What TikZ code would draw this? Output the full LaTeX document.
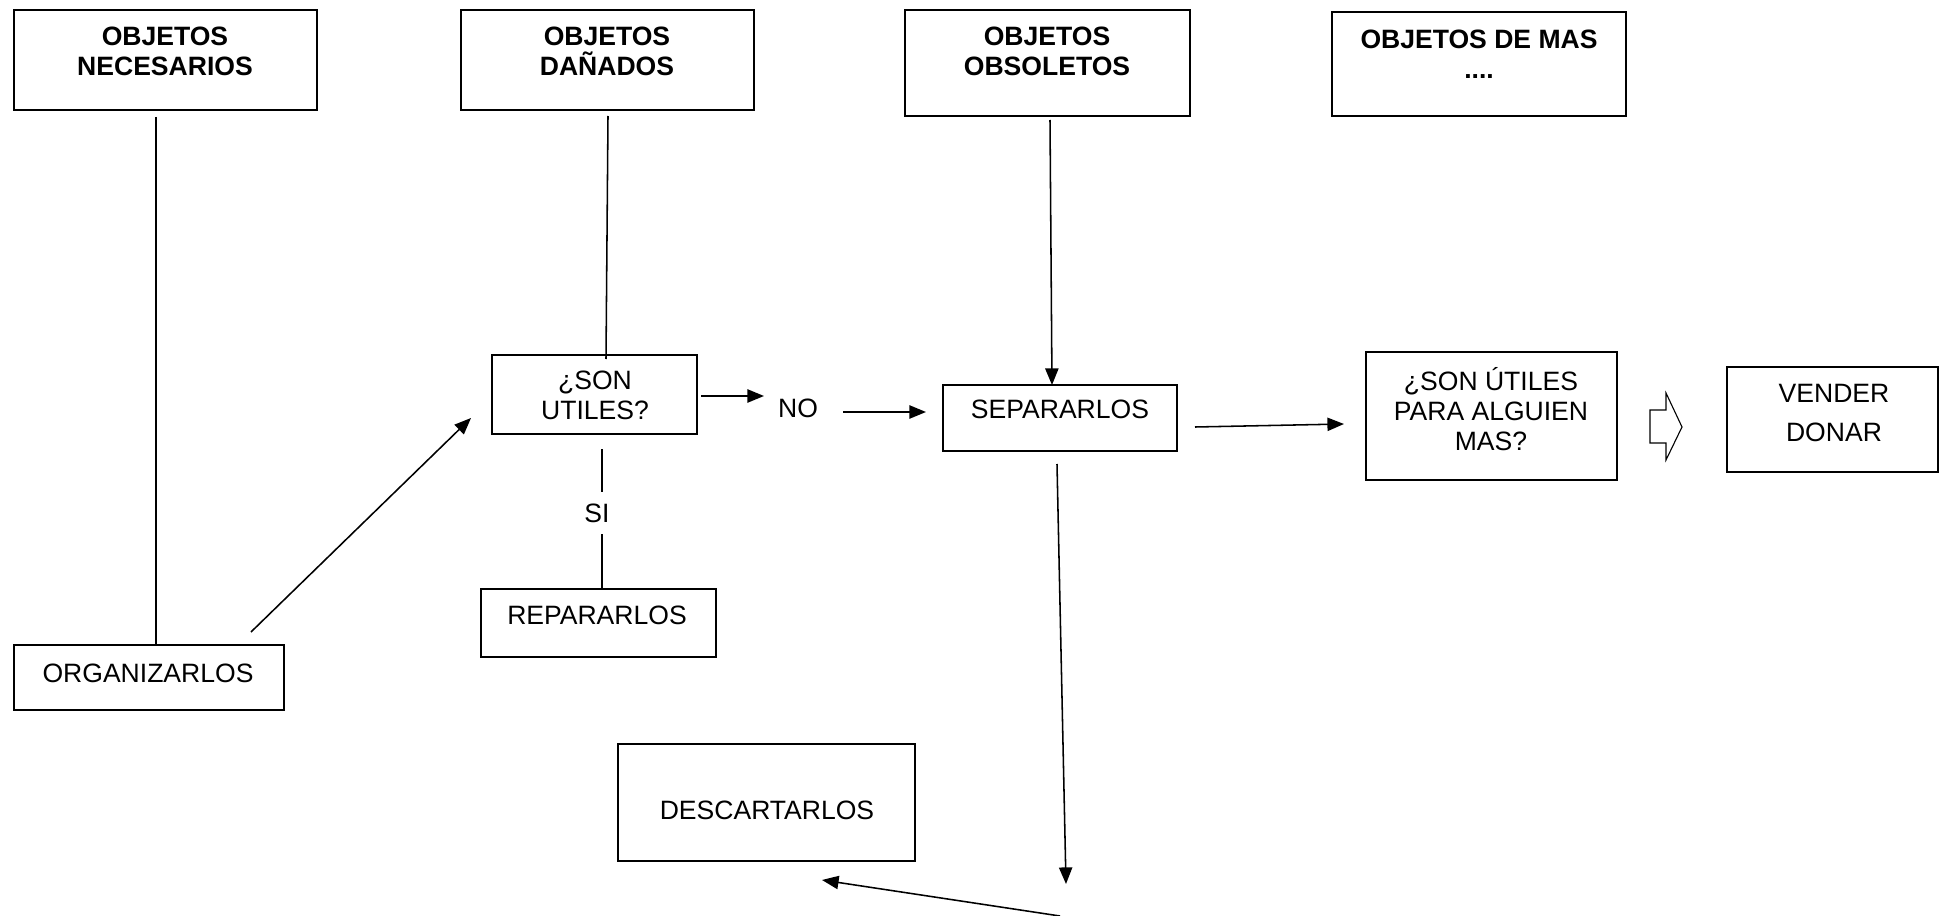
\documentclass[tikz,border=0pt]{standalone}
\usepackage{fontspec}
\setmainfont{Liberation Sans}
\usetikzlibrary{arrows.meta,fit}
\begin{document}
\begin{tikzpicture}[x=0.452pt,y=-0.452pt,
  box/.style={draw, line width=0.6pt, inner sep=0pt},
  txt/.style={inner sep=0pt, align=center, font=\fontsize{12}{13.6}\selectfont},
  btxt/.style={txt, font=\fontsize{12}{13.6}\selectfont\bfseries},
  conn/.style={line width=0.7pt},
  arr/.style={line width=0.7pt, -{Triangle[length=7.5pt,width=6pt]}}]
\useasboundingbox (0,0) rectangle (1939,916);

% boxes
\node[box, fit={(14,10) (317,110)}] (nec) {};
\node[btxt] (necT) at (165,51) {OBJETOS\\NECESARIOS};
\node[box, fit={(461,10) (754,110)}] (dan) {};
\node[btxt] (danT) at (607,51) {OBJETOS\\DAÑADOS};
\node[box, fit={(905,10) (1190,116)}] (obs) {};
\node[btxt] (obsT) at (1047,51) {OBJETOS\\OBSOLETOS};
\node[box, fit={(1332,12) (1626,116)}] (mas) {};
\node[btxt] (masT) at (1479,54) {OBJETOS DE MAS\\....};

\node[box, fit={(492,355) (697,434)}] (son) {};
\node[txt] (sonT) at (595,395) {¿SON\\UTILES?};
\node[box, fit={(943,385) (1177,451)}] (sep) {};
\node[txt] (sepT) at (1060,409) {SEPARARLOS};
\node[box, fit={(1366,352) (1617,480)}] (alg) {};
\node[txt] (algT) at (1491,409) {¿SON ÚTILES\\PARA ALGUIEN\\MAS?};
\node[box, fit={(1727,367) (1938,472)}] (ven) {};
\node[txt, font=\fontsize{12}{17.2}\selectfont] (venT) at (1834,413) {VENDER\\DONAR};
\node[box, fit={(481,589) (716,657)}] (rep) {};
\node[txt] (repT) at (597,615) {REPARARLOS};
\node[box, fit={(14,645) (284,710)}] (org) {};
\node[txt] (orgT) at (148,673) {ORGANIZARLOS};
\node[box, fit={(618,744) (915,861)}] (des) {};
\node[txt] (desT) at (767,810) {DESCARTARLOS};

% labels
\node[txt] (no) at (798,408) {NO};
\node[txt] (si) at (597,513) {SI};

% block arrow
\draw[line width=0.5pt] (1650,410) -- (1666,410) -- (1666,393) -- (1682,427)
  -- (1666,460) -- (1666,443) -- (1650,443) -- cycle;

% connector end points
\coordinate (c1a) at (156,117);  \coordinate (c1b) at (156,645);
\coordinate (c2a) at (608,116);  \coordinate (c2b) at (606,359);
\coordinate (c3a) at (1050,120); \coordinate (c3b) at (1052,385);
\coordinate (c4a) at (251,632);  \coordinate (c4b) at (471,418);
\coordinate (c5a) at (701,396);  \coordinate (c5b) at (764,396);
\coordinate (c6a) at (843,412);  \coordinate (c6b) at (926,412);
\coordinate (c7a) at (602,449);  \coordinate (c7b) at (602,492);
\coordinate (c8a) at (602,534);  \coordinate (c8b) at (602,589);
\coordinate (c9a) at (1195,427); \coordinate (c9b) at (1344,424);
\coordinate (c10a) at (1057,464); \coordinate (c10b) at (1066,884);
\coordinate (c11a) at (1060,916); \coordinate (c11b) at (822,880);

\draw[conn] (c1a) -- (c1b);
\draw[conn] (c2a) -- (c2b);
\draw[arr] (c3a) -- (c3b);
\draw[arr] (c4a) -- (c4b);
\draw[arr] (c5a) -- (c5b);
\draw[arr] (c6a) -- (c6b);
\draw[conn] (c7a) -- (c7b);
\draw[conn] (c8a) -- (c8b);
\draw[arr] (c9a) -- (c9b);
\draw[arr] (c10a) -- (c10b);
\draw[arr] (c11a) -- (c11b);
\end{tikzpicture}
\end{document}
